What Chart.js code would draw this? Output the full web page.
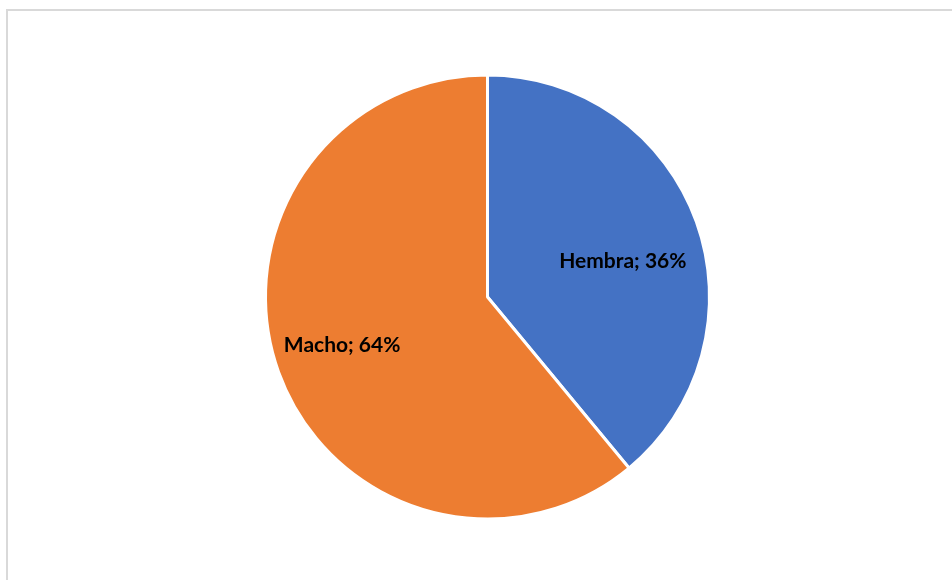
<!DOCTYPE html>
<html>
<head>
<meta charset="utf-8">
<script src="https://cdn.jsdelivr.net/npm/chart.js@4/dist/chart.umd.min.js"></script>
<style>
  html, body { margin: 0; padding: 0; background: #fff; }
  #wrap { position: relative; width: 952px; height: 580px; overflow: hidden; }
  #frame {
    position: absolute; left: 6px; top: 9px; width: 1000px; height: 620px;
    border-top: 2px solid #d9d9d9; border-left: 2px solid #d9d9d9;
  }
  #myChart { position: absolute; left: 0; top: 0; }
</style>
</head>
<body>
<div id="wrap">
  <div id="frame"></div>
  <canvas id="myChart" width="952" height="580"></canvas>
</div>
<script>
const categories = ['Hembra', 'Macho'];
// slice sizes as drawn in the picture
const sliceValues = [39, 61];
// percentages as printed on the labels
const labelPercents = ['36%', '64%'];
const colors = ['#4472C4', '#ED7D31'];

// draws "Name; NN%" inside each slice
const labelRadius = [0.63, 0.69];
const labelTurn = [0.09, 0.025]; // small nudge along the arc, radians
const sliceLabels = {
  id: 'sliceLabels',
  afterDatasetsDraw(chart) {
    const ctx = chart.ctx;
    const meta = chart.getDatasetMeta(0);
    ctx.save();
    ctx.font = 'bold 21px Lato, "Liberation Sans", sans-serif';
    ctx.fillStyle = '#000';
    ctx.textAlign = 'center';
    ctx.textBaseline = 'middle';
    meta.data.forEach(function (arc, i) {
      const mid = (arc.startAngle + arc.endAngle) / 2 + labelTurn[i];
      const r = arc.outerRadius * labelRadius[i];
      const x = arc.x + Math.cos(mid) * r;
      const y = arc.y + Math.sin(mid) * r;
      ctx.fillText(categories[i] + '; ' + labelPercents[i], x, y);
    });
    ctx.restore();
  }
};

const config = {
  type: 'pie',
  data: {
    labels: categories,
    datasets: [{
      data: sliceValues,
      backgroundColor: colors,
      borderColor: '#ffffff',
      borderWidth: 3,
    }],
  },
  options: {
    responsive: false,
    animation: false,
    events: [],
    layout: {
      padding: { left: 264, right: 241, top: 73, bottom: 59 },
    },
    plugins: {
      legend: { display: false },
      tooltip: { enabled: false },
    },
  },
  plugins: [sliceLabels],
};

const myChart = new Chart(document.getElementById('myChart'), config);
</script>
</body>
</html>
